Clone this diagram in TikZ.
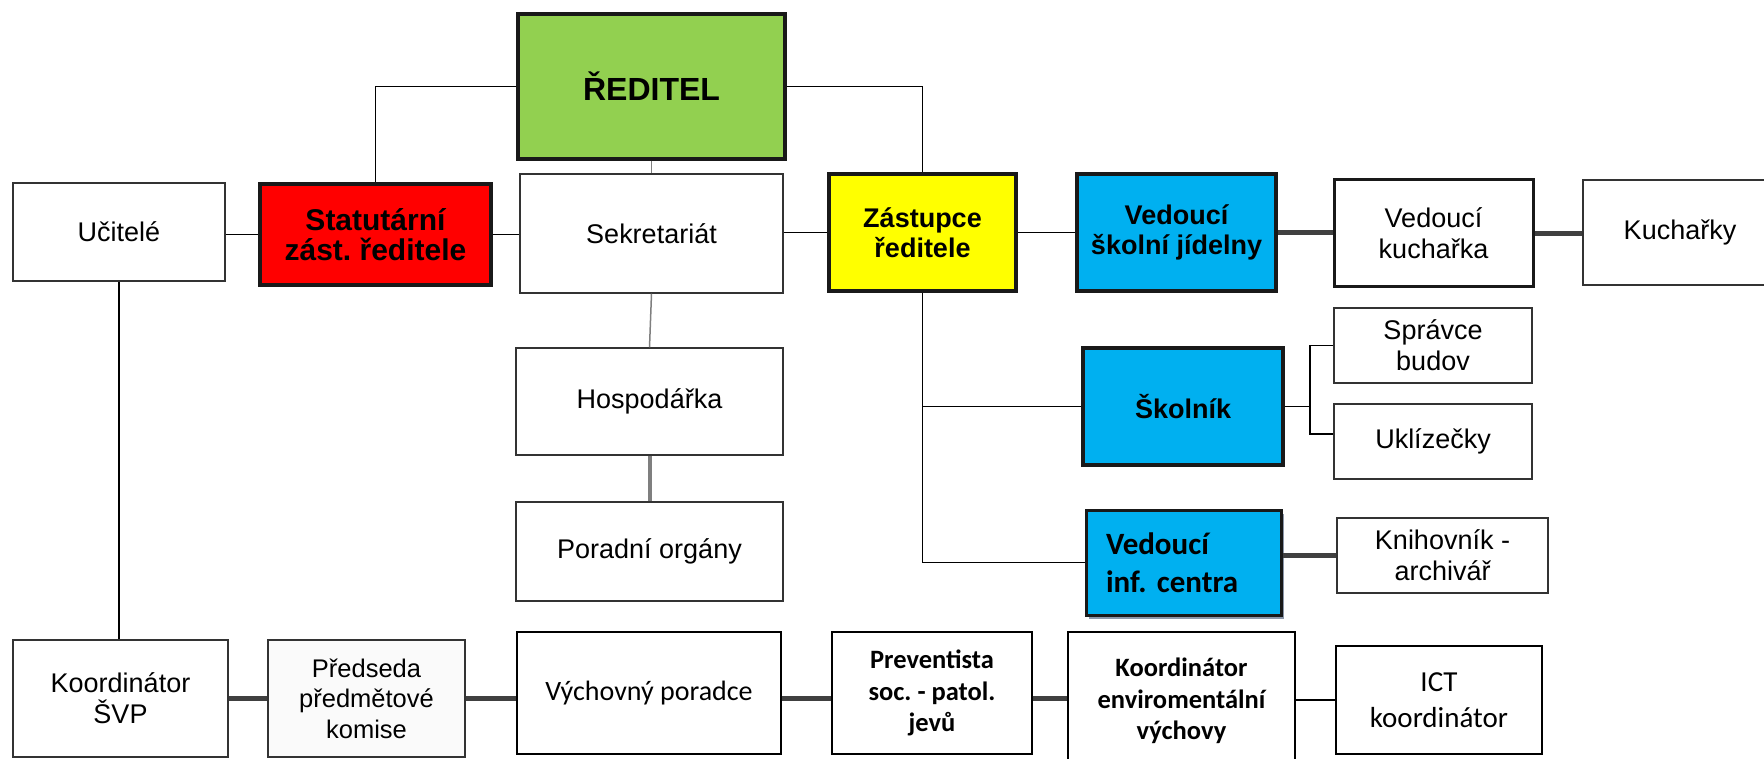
\documentclass[tikz,border=0pt]{standalone}
\usepackage{fontspec}
\setmainfont{Liberation Sans}
\newfontfamily\calibri{Carlito}
\usetikzlibrary{shadows}
\frenchspacing
\definecolor{headgreen}{HTML}{92D050}
\definecolor{deputyred}{HTML}{FF0000}
\definecolor{deputyyellow}{HTML}{FFFF00}
\definecolor{leadblue}{HTML}{00B0F0}
\definecolor{linkgray}{HTML}{404040}
\definecolor{stemgray}{HTML}{7F7F7F}
\definecolor{shadowgray}{HTML}{8C97AA}
\begin{document}
\begin{tikzpicture}[x=1pt,y=-1pt,
        unit/.style={draw=black!80,line width=1.5pt,inner sep=0pt,align=center,font=\fontsize{27}{31}\selectfont},
        lead/.style={unit,draw=black!90,line width=3.5pt,font=\bfseries\fontsize{27}{30}\selectfont},
        cunit/.style={unit,draw=black,font=\calibri\bfseries\fontsize{26.5}{31.7}\selectfont},
        link/.style={line width=1.5pt},
        heavylink/.style={line width=5pt,draw=linkgray},
        stem/.style={line width=1.5pt,draw=stemgray}]
        \useasboundingbox (0,0) rectangle (1764,759);
        %% head and second row
        \node[lead,fill=headgreen,minimum width=267pt,minimum height=145pt,font=\bfseries\fontsize{32}{36}\selectfont] (reditel) at (651.5,86.5) {ŘEDITEL};
        \node[unit,minimum width=212pt,minimum height=98pt] (ucitele) at (119,232) {Učitelé};
        \node[lead,fill=deputyred,minimum width=231pt,minimum height=101pt,font=\bfseries\fontsize{30}{30}\selectfont] (statutar) at (375.5,234.5) {Statutární\\zást. ředitele};
        \node[unit,minimum width=263pt,minimum height=119pt] (sekretariat) at (651.5,233.5) {Sekretariát};
        \node[lead,fill=deputyyellow,minimum width=187pt,minimum height=117pt] (zastupce) at (922.5,232.5) {Zástupce\\ředitele};
        \node[lead,fill=leadblue,minimum width=199pt,minimum height=117pt] (vedjidelna) at (1176.5,232.5) {Vedoucí\\školní jídelny};
        \node[unit,draw=black!90,line width=3pt,minimum width=199pt,minimum height=107pt] (vedkucharka) at (1433.5,233.5) {Vedoucí\\kuchařka};
        \node[unit,minimum width=194pt,minimum height=105pt] (kucharky) at (1680,232.5) {Kuchařky};
        %% middle
        \node[unit,minimum width=267pt,minimum height=107pt] (hospodarka) at (649.5,401.5) {Hospodářka};
        \node[unit,minimum width=267pt,minimum height=99pt] (poradni) at (649.5,551.5) {Poradní orgány};
        \node[lead,fill=leadblue,minimum width=200pt,minimum height=117pt] (skolnik) at (1183,406.5) {Školník};
        \node[unit,minimum width=198pt,minimum height=75pt] (spravce) at (1433,345.5) {Správce\\budov};
        \node[unit,minimum width=198pt,minimum height=75pt] (uklizecky) at (1433,441.5) {Uklízečky};
        \node[lead,fill=leadblue,line width=3pt,text width=155pt,align=left,minimum width=195pt,minimum height=105pt,
            font=\calibri\bfseries\fontsize{31}{38}\selectfont,
            drop shadow={shadow xshift=3pt,shadow yshift=-4pt,fill=shadowgray,opacity=1}] (vedinf) at (1183.5,562.5) {Vedoucí\\inf. centra};
        \node[unit,minimum width=211pt,minimum height=75pt] (knihovnik) at (1442.5,555.5) {Knihovník -\\archivář};
        %% bottom row
        \node[unit,minimum width=215pt,minimum height=117pt] (koordsvp) at (120.5,698.5) {Koordinátor\\ŠVP};
        \node[unit,fill=black!2,minimum width=197pt,minimum height=117pt,font=\fontsize{25.5}{30.5}\selectfont] (predseda) at (366.5,698.5) {Předseda\\předmětové\\komise};
        \node[cunit,minimum width=264pt,minimum height=122pt,font=\calibri\fontsize{28}{34}\selectfont] (vychovny) at (649,693) {Výchovný poradce};
        \node[cunit,minimum width=200pt,minimum height=122pt] (preventista) at (932,693) {Preventista\\soc. - patol.\\jevů};
        \node[cunit,minimum width=227pt,minimum height=138pt] (koordenv) at (1181.5,701) {Koordinátor\\enviromentální\\výchovy};
        \node[cunit,minimum width=206pt,minimum height=108pt,font=\calibri\fontsize{29}{36.5}\selectfont] (ict) at (1439,700) {ICT\\koordinátor};
        %% links from the head
        \draw[link] (reditel.west) -| (statutar.north);
        \draw[link] (reditel.east) -| (zastupce.north);
        \draw[stem] (reditel.south) -- (sekretariat.north);
        \draw[stem] (sekretariat.south) -- (hospodarka.north);
        \draw[stem,line width=4pt] (hospodarka.south) -- (poradni.north);
        %% second row
        \draw[link] (statutar.west -| ucitele.east) -- (statutar.west);
        \draw[link] (statutar.east) -- (statutar.east -| sekretariat.west);
        \draw[link] (zastupce.west -| sekretariat.east) -- (zastupce.west);
        \draw[link] (zastupce.east) -- (zastupce.east -| vedjidelna.west);
        \draw[heavylink] (vedjidelna.east) -- (vedjidelna.east -| vedkucharka.west);
        \draw[heavylink] (vedkucharka.east) -- (vedkucharka.east -| kucharky.west);
        %% under the deputy
        \draw[link] (zastupce.south) |- (skolnik.west);
        \draw[link] (zastupce.south) |- (vedinf.west);
        \coordinate (fork) at ([xshift=25pt]skolnik.east);
        \draw[link] (skolnik.east) -- (fork) |- (spravce.west);
        \draw[link] (fork) |- ([yshift=7.5pt]uklizecky.west);
        \draw[heavylink] (vedinf.east |- knihovnik.west) -- (knihovnik.west);
        %% bottom row
        \draw[link] (ucitele.south) -- (ucitele.south |- koordsvp.north);
        \draw[heavylink] (koordsvp.east) -- (predseda.west);
        \draw[heavylink] (predseda.east) -- (predseda.east -| vychovny.west);
        \draw[heavylink] (predseda.east -| vychovny.east) -- (predseda.east -| preventista.west);
        \draw[heavylink] (predseda.east -| preventista.east) -- (predseda.east -| koordenv.west);
        \draw[link] (koordenv.east |- ict.west) -- (ict.west);
\end{tikzpicture}
\end{document}
